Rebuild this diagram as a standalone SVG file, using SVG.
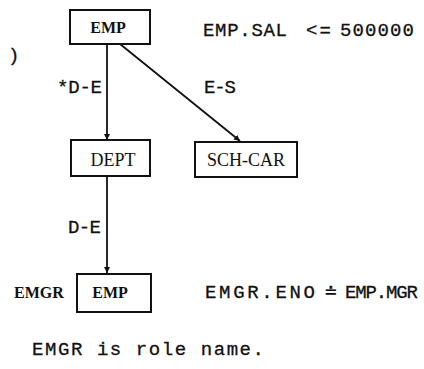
<svg xmlns="http://www.w3.org/2000/svg" width="424" height="369" viewBox="0 0 424 369">
<defs>
<marker id="arr" viewBox="0 0 10 10" refX="10" refY="5" markerWidth="6" markerHeight="8" orient="auto" markerUnits="userSpaceOnUse">
<path d="M0,0 L10,5 L0,10 z" fill="#111"/>
</marker>
<style>
.box{fill:#fff;stroke:#111;stroke-width:2}
.lbl{font-family:"Liberation Serif",serif;fill:#111}
.bold{font-weight:bold;font-size:16px}
.reg{font-size:18px}
.mono{font-family:"Liberation Mono",monospace;font-size:19px;fill:#111;stroke:#111;stroke-width:0.3}
.edge{stroke:#111;stroke-width:1.8;fill:none}
</style>
</defs>
<rect width="424" height="369" fill="#fff"/>
<g id="connectors">
<line class="edge" x1="107" y1="44" x2="107" y2="140" marker-end="url(#arr)"/>
<line class="edge" x1="120" y1="44" x2="240" y2="141" marker-end="url(#arr)"/>
<line class="edge" x1="107" y1="176" x2="107" y2="273" marker-end="url(#arr)"/>
<text class="mono" x="57" y="93" textLength="45">*D-E</text>
<text class="mono" x="204" y="93" textLength="32">E-S</text>
<text class="mono" x="68" y="233" textLength="33">D-E</text>
</g>
<g id="node-emp">
<rect class="box" x="70" y="10" width="80" height="34"/>
<text class="lbl bold" x="108" y="33" text-anchor="middle">EMP</text>
</g>
<g id="node-dept">
<rect class="box" x="71" y="140" width="79" height="36"/>
<text class="lbl reg" x="113" y="166" text-anchor="middle">DEPT</text>
</g>
<g id="node-schcar">
<rect class="box" x="195" y="142" width="102" height="35"/>
<text class="lbl reg" x="246" y="166" text-anchor="middle">SCH-CAR</text>
</g>
<g id="node-emgr">
<rect class="box" x="77" y="274" width="74" height="38"/>
<text class="lbl bold" x="110" y="298" text-anchor="middle">EMP</text>
<text class="lbl bold" x="14" y="298">EMGR</text>
</g>
<g id="annotations">
<text class="mono" x="8" y="61">)</text>
<text class="mono" x="203" y="36" textLength="84">EMP.SAL</text>
<text class="mono" x="306" y="36" textLength="25">&lt;=</text>
<text class="mono" x="340" y="36" textLength="74">500000</text>
<text class="mono" x="205" y="298" textLength="110">EMGR.ENO</text>
<text class="mono" x="325" y="298">≐</text>
<text class="mono" x="345" y="298" textLength="73">EMP.MGR</text>
<text class="mono" x="32" y="355" textLength="232">EMGR is role name.</text>
</g>
</svg>
